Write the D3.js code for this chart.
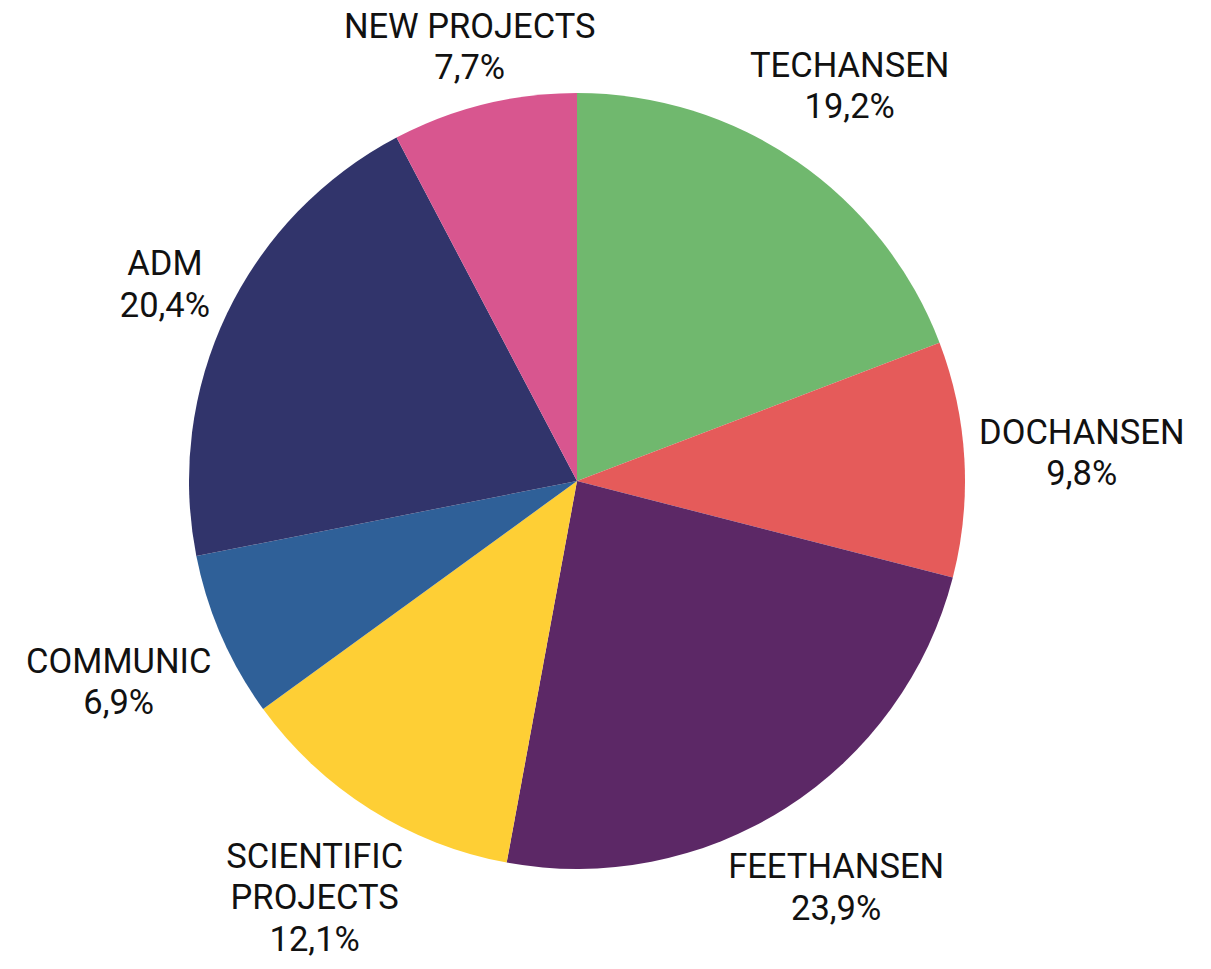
<!DOCTYPE html>
<html>
<head>
<meta charset="utf-8">
<script src="https://cdn.jsdelivr.net/npm/d3@7"></script>
<style>
  body { margin: 0; background: #fff; }
  svg text { font-family: Roboto, "Open Sans", sans-serif; fill: #111; }
</style>
</head>
<body>
<div id="chart"></div>
<script>
// slices, clockwise from 12 o'clock
var names = ["TECHANSEN", "DOCHANSEN", "FEETHANSEN", "SCIENTIFIC PROJECTS", "COMMUNIC", "ADM", "NEW PROJECTS"];
var shares = [19.2, 9.8, 23.9, 12.1, 6.9, 20.4, 7.7];
var colors = ["#70b86e", "#e55b5a", "#5c2866", "#fecf35", "#2f6098", "#31346b", "#d8568f"];
// line breaks used by the label text
var labelLines = [["TECHANSEN"], ["DOCHANSEN"], ["FEETHANSEN"], ["SCIENTIFIC", "PROJECTS"], ["COMMUNIC"], ["ADM"], ["NEW PROJECTS"]];

var width = 1211, height = 969;
var cx = 577, cy = 481, radius = 388;
var labelGap = 402;   // nearest point of a label's glyph box to the pie centre
var fontSize = 34.5, lineH = 41.5;
var capH = fontSize * 0.711;

var data = names.map(function(n, i) {
  return {name: n, value: shares[i], color: colors[i], lines: labelLines[i]};
});

var svg = d3.select("#chart").append("svg")
  .attr("width", width)
  .attr("height", height);

var g = svg.append("g").attr("transform", "translate(" + cx + "," + cy + ")");

var pie = d3.pie().sort(null).value(function(d) { return d.value; });
var arc = d3.arc().innerRadius(0).outerRadius(radius);
var arcs = pie(data);

g.selectAll("path.slice").data(arcs).enter()
  .append("path")
  .attr("class", "slice")
  .attr("d", arc)
  .attr("fill", function(d) { return d.data.color; });

function nearestDist(px, py, hw, hh) {
  var dx = Math.max(Math.abs(px) - hw, 0);
  var dy = Math.max(Math.abs(py) - hh, 0);
  return Math.sqrt(dx * dx + dy * dy);
}

arcs.forEach(function(a) {
  var lines = a.data.lines.concat([String(a.data.value).replace(".", ",") + "%"]);
  var t = g.append("text")
    .style("font-size", fontSize + "px")
    .attr("text-anchor", "middle");
  lines.forEach(function(l, i) {
    t.append("tspan").attr("x", 0).attr("y", i * lineH).text(l);
  });
  var bb = t.node().getBBox();
  // glyph box: cap top of first line to baseline of last line
  var top = -capH, bottom = (lines.length - 1) * lineH;
  var hw = bb.width / 2, hh = (bottom - top) / 2;
  var ang = (a.startAngle + a.endAngle) / 2;
  var ux = Math.sin(ang), uy = -Math.cos(ang);
  // push the box outward until its nearest edge sits at labelGap
  var lo = 0, hi = 1000;
  for (var k = 0; k < 40; k++) {
    var mid = (lo + hi) / 2;
    if (nearestDist(ux * mid, uy * mid, hw, hh) < labelGap) lo = mid; else hi = mid;
  }
  var px = ux * lo, py = uy * lo;
  var offY = (top + bottom) / 2;
  t.attr("transform", "translate(" + px + "," + (py - offY) + ")");
});
</script>
</body>
</html>
